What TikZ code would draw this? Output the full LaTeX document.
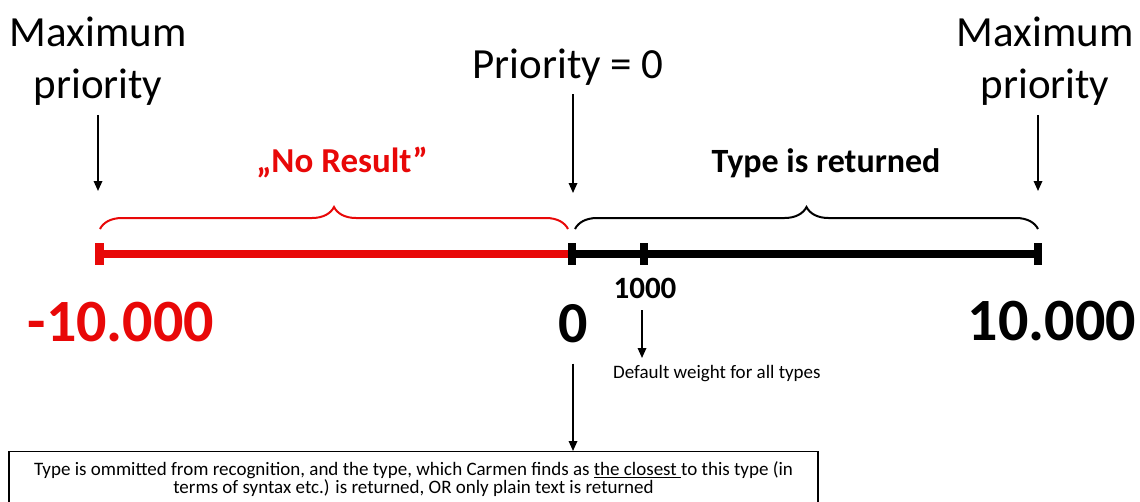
\documentclass[tikz,border=0pt]{standalone}
\usepackage{fontspec}
\setmainfont{Carlito}
\usetikzlibrary{arrows.meta,decorations.pathreplacing,positioning}
\definecolor{nored}{RGB}{232,8,8}
\tikzset{
    txt/.style={inner sep=0pt},
    pointer/.style={line width=1.7pt, -{Triangle[length=10pt,width=8.5pt]}},
    bar/.style={line width=8pt},
    tickmark/.style={line width=8.5pt},
    curly/.style={decorate, decoration={brace, amplitude=22pt}, line width=2pt},
}
\begin{document}
\begin{tikzpicture}[x=1pt, y=-1pt]
    \useasboundingbox (0,0) rectangle (1140,501);
    \clip (0,0) rectangle (1140,501);

    % Top labels
    \node[txt, align=center, anchor=north, font=\fontsize{43}{52}\selectfont] (maxL) at (98,17) {Maximum\\priority};
    \node[txt, align=center, anchor=north, font=\fontsize{43}{52}\selectfont] (maxR) at (1045,17) {Maximum\\priority};
    \node[txt, anchor=base, font=\fontsize{43}{52}\selectfont] (prio) at (568,78) {Priority = 0};
    \node[txt, anchor=base, font=\fontsize{35}{40}\selectfont\bfseries, text=nored] (nores) at (342,172) {„No Result”};
    \node[txt, anchor=base, font=\fontsize{34}{40}\selectfont\bfseries] (ret) at (826,172) {Type is returned};

    % Arrows to the scale
    \coordinate (tipL) at (98,191);
    \coordinate (tipM) at (573,193);
    \coordinate (tipR) at (1038,191);
    \draw[pointer, shorten <=9pt] (maxL.south -| tipL) -- (tipL);
    \draw[pointer, shorten <=9pt] (prio.south -| tipM) -- (tipM);
    \draw[pointer, shorten <=9pt] (maxR.south -| tipR) -- (tipR);

    % Braces
    \draw[curly, nored] (100,229) -- (568,229);
    \draw[curly] (575,229) -- (1038,229);

    % Scale
    \draw[bar, nored] (100,254) -- (572,254);
    \draw[bar] (572,254) -- (1038,254);
    \draw[tickmark, nored] (99.5,243) -- (99.5,265);
    \foreach \x in {572, 644, 1038} {
        \draw[tickmark] (\x,243) -- (\x,265);
    }

    % Values
    \node[txt, anchor=base, font=\fontsize{60}{70}\selectfont\bfseries, text=nored] (vmin) at (121,341) {-10.000};
    \node[txt, anchor=base, font=\fontsize{58}{70}\selectfont\bfseries] (zero) at (573,342) {0};
    \node[txt, anchor=base, font=\fontsize{60}{70}\selectfont\bfseries] (vmax) at (1052,340) {10.000};
    \node[txt, anchor=base, font=\fontsize{31}{36}\selectfont\bfseries] (k1000) at (645,298) {1000};

    % Default weight
    \coordinate (tipD) at (642,358);
    \node[txt, anchor=base west, font=\fontsize{19}{22}\selectfont] (dflt) at (613,378) {Default weight for all types};
    \draw[pointer, shorten <=12pt] (k1000.south -| tipD) -- (tipD);

    % Note box
    \node[draw, line width=1.2pt, anchor=north, minimum width=809pt, inner xsep=0pt, inner ysep=10.5pt,
          align=center, font=\fontsize{19}{18}\selectfont] (note) at (413.5,451)
        {Type is ommitted from recognition, and the type, which Carmen finds as \underline{the closest\ }to this type (in\\
         terms of syntax etc.) is returned, OR only plain text is returned};
    \draw[pointer, shorten <=21pt] (zero.south) -- (zero.south |- note.north);
\end{tikzpicture}
\end{document}
